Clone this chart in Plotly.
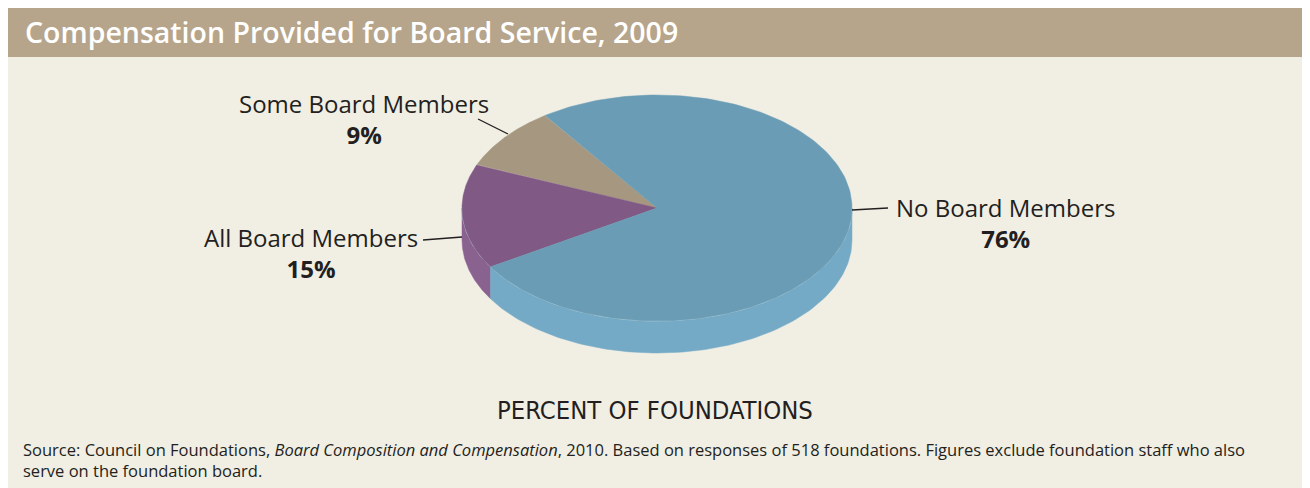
import numpy as np
import plotly.graph_objects as go

# ---- data ----
categories = ["Some Board Members", "All Board Members", "No Board Members"]
values = [9, 15, 76]
top_colors = ["#a69880", "#805a84", "#6a9db5"]
side_colors = ["#a69880", "#8a6290", "#74aac6"]
label_text = ["9%", "15%", "76%"]

title = "Compensation Provided for Board Service, 2009"
axis_caption = "PERCENT OF FOUNDATIONS"
source_text = ("Source: Council on Foundations, <i>Board Composition and Compensation</i>, 2010. "
               "Based on responses of 518 foundations. Figures exclude foundation staff who also"
               "<br>serve on the foundation board.")

# ---- geometry (coordinates equal page pixels; page body has an 8px margin) ----
W, H = 1310, 488
OFF = 8
cx, cy, rx, ry, depth = 657, 208, 195, 113, 32
start_angle = 125.0  # degrees, counter-clockwise from +x

def pt(t_deg, dy=0.0):
    t = np.radians(t_deg)
    return cx + rx * np.cos(t), cy - ry * np.sin(t) + dy

fig = go.Figure()

total = sum(values)
angles = []
a = start_angle
for v in values:
    span = 360.0 * v / total
    angles.append((a, a + span))
    a += span

# sides (front half)
for (a0, a1), col in zip(angles, side_colors):
    for base in (0, 360):
        s0 = max(a0, 180 + base)
        s1 = min(a1, 360 + base)
        if s1 > s0:
            ts = np.linspace(s0, s1, 120)
            xs_top, ys_top = pt(ts)
            xs_bot, ys_bot = pt(ts[::-1], depth)
            xs = np.concatenate([xs_top, xs_bot, xs_top[:1]])
            ys = np.concatenate([ys_top, ys_bot, ys_top[:1]])
            fig.add_trace(go.Scatter(x=xs, y=ys, fill="toself", fillcolor=col,
                                     mode="lines", line=dict(color=col, width=0.5),
                                     hoverinfo="skip", showlegend=False))

# rim highlight
ts = np.linspace(180, 360, 200)
xr, yr = pt(ts)
fig.add_trace(go.Scatter(x=xr, y=yr, mode="lines", line=dict(color="#b9d3df", width=1),
                         hoverinfo="skip", showlegend=False))

# top faces
for (a0, a1), col, name in zip(angles, top_colors, categories):
    ts = np.linspace(a0, a1, 200)
    xa, ya = pt(ts)
    xs = np.concatenate([[cx], xa, [cx]])
    ys = np.concatenate([[cy], ya, [cy]])
    fig.add_trace(go.Scatter(x=xs, y=ys, fill="toself", fillcolor=col,
                             mode="lines", line=dict(color=col, width=0.5),
                             name=name, hoverinfo="name", showlegend=False))

# leader lines
leaders = [((478, 119), (508, 134)), ((423, 240), (462, 237)), ((852, 210), (888, 208))]
for (x0, y0), (x1, y1) in leaders:
    fig.add_trace(go.Scatter(x=[x0, x1], y=[y0, y1], mode="lines",
                             line=dict(color="#231f20", width=1.3),
                             hoverinfo="skip", showlegend=False))

body_font = "Open Sans, Liberation Sans, Arial, sans-serif"
narrow_font = "Liberation Sans Narrow, DejaVu Sans Condensed, Arial Narrow, sans-serif"
txt = "#231f20"

label_pos = [(364, 118.5), (311, 253), (1005, 222.5)]
annotations = []
for (lx, ly), name, pct in zip(label_pos, categories, label_text):
    annotations.append(dict(x=lx, y=ly, text=name + "<br><b>" + pct + "</b>",
                            xanchor="center", yanchor="middle", align="center",
                            font=dict(size=24, color=txt, family=body_font)))
annotations += [
    dict(x=655, y=410, text=axis_caption, xanchor="center", yanchor="middle",
         font=dict(size=25.4, color=txt, family=narrow_font)),
    dict(x=21, y=460, text=source_text, xanchor="left", yanchor="middle", align="left",
         font=dict(size=16.5, color=txt, family=body_font)),
    dict(x=23, y=32, text=title, xanchor="left", yanchor="middle",
         font=dict(size=28.5, color="white", family=body_font, weight=600)),
]
for an in annotations:
    an.update(xref="x", yref="y", showarrow=False)

shapes = [
    dict(type="rect", xref="x", yref="y", x0=5, x1=W, y0=57, y1=H,
         fillcolor="#f1eee4", line=dict(width=0), layer="below"),
    dict(type="rect", xref="x", yref="y", x0=5, x1=W, y0=7, y1=57,
         fillcolor="#b6a58b", line=dict(width=0), layer="below"),
]

fig.update_layout(
    width=W - OFF, height=H - OFF, margin=dict(l=0, r=0, t=0, b=0),
    paper_bgcolor="white", plot_bgcolor="rgba(0,0,0,0)",
    xaxis=dict(range=[OFF, W], visible=False, fixedrange=True),
    yaxis=dict(range=[H, OFF], visible=False, fixedrange=True),
    shapes=shapes, annotations=annotations, showlegend=False,
)

fig.write_html("out.html")
